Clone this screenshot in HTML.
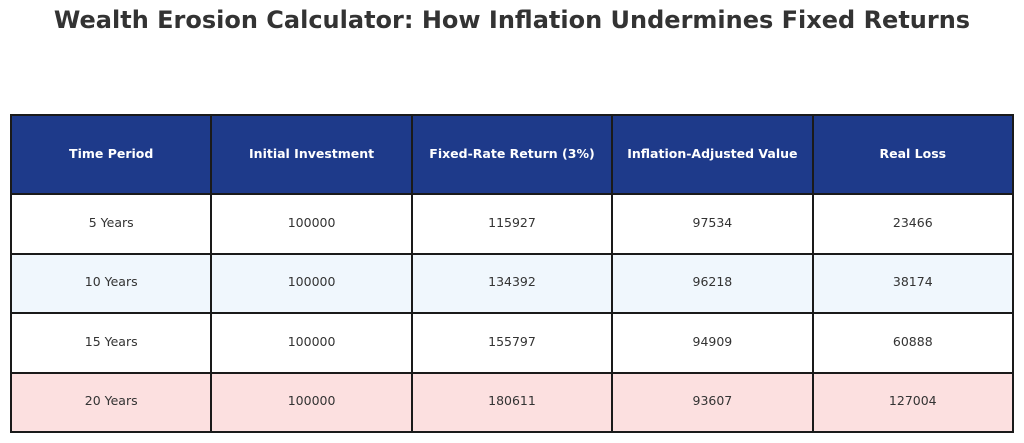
<!DOCTYPE html>
<html><head><meta charset="utf-8"><style>
body{margin:0;width:1024px;height:443px;background:#fff;position:relative;overflow:hidden;font-family:"DejaVu Sans","Liberation Sans",sans-serif;}
#title{position:absolute;left:0;width:1024px;top:6px;text-align:center;font-weight:bold;font-size:24px;color:#333;}
.c{position:absolute;box-sizing:border-box;border:2px solid #1a1a1a;display:flex;align-items:center;justify-content:center;font-size:12.5px;color:#333;padding-bottom:3px;}
.h{background:#1e3a8a;color:#fff;font-weight:bold;}
</style></head><body>
<div id="title">Wealth Erosion Calculator: How Inflation Undermines Fixed Returns</div>
<div id="tbl"></div>
<script>
const headers=["Time Period","Initial Investment","Fixed-Rate Return (3%)","Inflation-Adjusted Value","Real Loss"];
const periods=["5 Years","10 Years","15 Years","20 Years"];
const initial=[100000,100000,100000,100000];
const fixedReturn=[115927,134392,155797,180611];
const adjusted=[97534,96218,94909,93607];
const realLoss=[23466,38174,60888,127004];
const rowBg=["#ffffff","#f0f7fd","#ffffff","#fce0e0"];
const tbl=document.getElementById('tbl');
const x0=10,y0=114,w=200.4,hh=79,rh=59.5;
function cell(txt,x,y,cw,ch,cls,bg,name){
  const d=document.createElement('div');
  d.className='c '+cls;
  d.style.left=x+'px';d.style.top=y+'px';d.style.width=(cw+2)+'px';d.style.height=(ch+2)+'px';
  if(bg)d.style.background=bg;
  d.textContent=txt;
  
  
  tbl.appendChild(d);
}
headers.forEach((h,i)=>cell(h,x0+i*w,y0,w,hh,'h',null,'header-cell'));
periods.forEach((p,r)=>{
  const vals=[p,initial[r],fixedReturn[r],adjusted[r],realLoss[r]];
  vals.forEach((v,i)=>cell(String(v),x0+i*w,y0+hh+r*rh,w,rh,'',rowBg[r],'table-cell'));
});
</script>
</body></html>
